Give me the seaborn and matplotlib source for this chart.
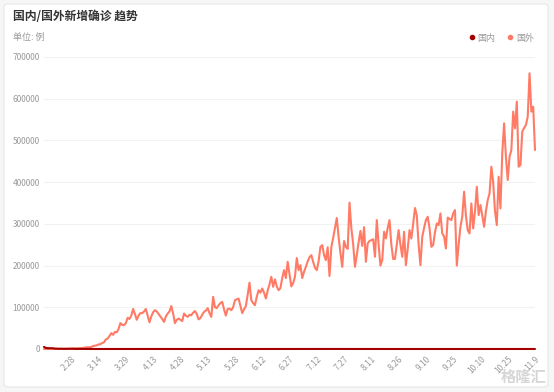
import pandas as pd
import matplotlib.pyplot as plt
import seaborn as sns
from matplotlib.lines import Line2D
from matplotlib.patches import FancyBboxPatch

# daily new confirmed cases, 2020-02-13 .. 2020-11-09
start_date = '2020-02-13'

foreign = [
    40, 70, 60, 90, 80, 120, 110, 190, 230, 400, 350, 600, 500, 600, 900,
    1000, 1200, 1300, 1700, 1900, 2200, 2300, 3000, 3800, 3900, 4200, 4700, 7000, 7900, 8800,
    10900, 11500, 14500, 16000, 23000, 25000, 31000, 38000, 34000, 41000, 40000, 48000, 62000, 58000, 57000,
    62000, 75000, 72000, 80000, 96000, 84000, 70000, 80000, 86000, 86000, 90000, 96000, 80000, 64000, 78000,
    88000, 93000, 90000, 84000, 78000, 72000, 65000, 78000, 85000, 90000, 103000, 85000, 62000, 70000, 73000,
    70000, 67000, 85000, 80000, 77000, 82000, 81000, 87000, 91000, 84000, 71000, 74000, 82000, 89000, 92000,
    98000, 86000, 77000, 125000, 100000, 98000, 105000, 110000, 113000, 95000, 80000, 96000, 97000, 93000, 100000,
    117000, 119000, 121000, 103000, 86000, 95000, 103000, 130000, 159000, 117000, 110000, 105000, 125000, 141000, 135000,
    145000, 135000, 121000, 140000, 155000, 173000, 149000, 167000, 150000, 141000, 146000, 170000, 189000, 170000, 209000,
    180000, 150000, 158000, 173000, 218000, 189000, 201000, 170000, 185000, 197000, 210000, 220000, 225000, 209000, 195000,
    189000, 210000, 245000, 249000, 225000, 213000, 244000, 175000, 244000, 266000, 290000, 314000, 269000, 230000, 197000,
    259000, 245000, 240000, 351000, 290000, 252000, 197000, 225000, 256000, 283000, 247000, 292000, 209000, 253000, 259000,
    261000, 263000, 221000, 309000, 250000, 200000, 213000, 281000, 265000, 290000, 309000, 250000, 216000, 216000, 250000,
    285000, 250000, 221000, 281000, 201000, 240000, 285000, 265000, 300000, 338000, 320000, 250000, 201000, 269000, 290000,
    309000, 317000, 290000, 245000, 249000, 280000, 301000, 297000, 325000, 277000, 270000, 241000, 315000, 312000, 309000,
    325000, 333000, 200000, 250000, 293000, 317000, 377000, 320000, 285000, 277000, 349000, 289000, 330000, 389000, 321000,
    345000, 320000, 293000, 330000, 357000, 373000, 437000, 400000, 330000, 297000, 413000, 337000, 469000, 541000, 461000,
    405000, 461000, 477000, 569000, 529000, 593000, 437000, 441000, 521000, 530000, 537000, 557000, 661000, 569000, 581000, 477000,
]

domestic = [
    5090, 2641, 2009, 2048, 1886, 1749, 820, 889, 397, 648, 409, 508, 406, 433, 327,
    427, 573, 202, 125, 119, 139, 143, 99, 44, 40, 19, 24, 15, 20, 11,
    20, 16, 21, 13, 34, 39, 41, 46, 39, 78, 47, 67, 55, 54, 45,
    31, 48, 36, 35, 31, 30, 39, 32, 63, 62, 42, 46, 99, 108, 89,
    46, 36, 26, 20, 18, 12, 16, 11, 30, 10, 11, 5, 6, 3, 22,
    6, 12, 4, 2, 1, 2, 1, 2, 2, 1, 17, 5, 3, 7, 1,
    4, 16, 6, 4, 11, 2, 3, 2, 3, 2, 11, 7, 2, 5, 4,
    1, 2, 6, 16, 5, 4, 1, 6, 3, 11, 27, 40, 57, 49, 32,
    44, 28, 25, 22, 30, 19, 21, 25, 13, 17, 21, 13, 12, 21, 16,
    8, 3, 5, 3, 10, 16, 14, 7, 8, 6, 12, 7, 8, 11, 7,
    4, 13, 18, 23, 30, 33, 44, 22, 22, 61, 68, 64, 101, 127, 105,
    68, 61, 57, 27, 49, 37, 36, 27, 22, 31, 25, 20, 14, 13, 11,
    23, 19, 15, 16, 22, 11, 17, 11, 12, 17, 12, 14, 9, 10, 16,
    12, 8, 10, 9, 6, 7, 11, 9, 11, 14, 6, 10, 15, 12, 10,
    11, 7, 10, 10, 14, 20, 13, 16, 8, 9, 9, 18, 14, 10, 6,
    11, 10, 6, 12, 14, 11, 20, 21, 12, 10, 17, 13, 26, 15, 11,
    15, 20, 17, 22, 29, 22, 36, 24, 17, 20, 22, 21, 12, 28, 47,
    20, 26, 42, 25, 16, 23, 25, 24, 19, 26, 33, 37, 36, 24, 25, 25,
]

tick_step = 15
c_domestic = '#a50000'
c_foreign = '#ff7b66'

dates = pd.date_range(start_date, periods=len(foreign), freq='D')
df = pd.DataFrame({'day': range(len(foreign)), '国外': foreign, '国内': domestic})
long = df.melt(id_vars='day', var_name='series', value_name='value')

sns.set_theme(style='white')
plt.rcParams['font.family'] = ['Noto Sans CJK SC', 'DejaVu Sans']

fig = plt.figure(figsize=(5.54, 3.92), dpi=100)
fig.patch.set_facecolor('#f6f6f6')

# white card behind everything
card = FancyBboxPatch((4 / 554, 1 - 387 / 392), 544 / 554, 383 / 392,
                      boxstyle='round,pad=0,rounding_size=0.008',
                      transform=fig.transFigure, facecolor='white',
                      edgecolor='#e6e6e6', linewidth=0.8, zorder=-10)
fig.patches.append(card)

ax = fig.add_axes([44 / 554, 1 - 349 / 392, 491 / 554, 292 / 392])
ax.set_facecolor('none')
ax.set_zorder(5)

sns.lineplot(data=long, x='day', y='value', hue='series',
             hue_order=['国外', '国内'],
             palette={'国外': c_foreign, '国内': c_domestic},
             linewidth=1.5, legend=False, ax=ax)
for ln in ax.lines:
    ln.set_clip_on(False)
    ln.set_solid_joinstyle('round')

ax.set_xlim(0, len(foreign) - 1)
ax.set_ylim(0, 700000)
ax.set_yticks(range(0, 700001, 100000))
ax.set_yticklabels([str(v) for v in range(0, 700001, 100000)])
ticks = list(range(tick_step, len(foreign), tick_step))
ax.set_xticks(ticks)
ax.set_xticklabels([f'{dates[i].month}.{dates[i].day}' for i in ticks],
                   rotation=45, ha='right', rotation_mode='anchor')
ax.tick_params(axis='both', labelsize=6, colors='#999999', length=0, pad=3)
ax.tick_params(axis='x', pad=4)
ax.grid(axis='y', color='#f2f2f2', linewidth=0.8)
for s in ax.spines.values():
    s.set_visible(False)
ax.set_xlabel('')
ax.set_ylabel('')

fig.text(13 / 554, 1 - 17 / 392, '国内/国外新增确诊 趋势', fontsize=8.5,
         fontweight='bold', color='#333333', va='center')
fig.text(13 / 554, 1 - 37 / 392, '单位: 例', fontsize=6.5, color='#999999', va='center')

handles = [Line2D([], [], marker='o', linestyle='', color=c_domestic, markersize=3),
           Line2D([], [], marker='o', linestyle='', color=c_foreign, markersize=3)]
leg = fig.legend(handles, ['国内', '国外'], loc='center right',
                 bbox_to_anchor=(542 / 554, 1 - 38 / 392), ncol=2, frameon=False,
                 fontsize=6.5, handletextpad=0.1, columnspacing=1.2, handlelength=1)
for t in leg.get_texts():
    t.set_color('#999999')

# watermark
fig.text(546 / 554, 1 - 377 / 392, '格隆汇', fontsize=11, color='#d6d6d6',
         ha='right', va='center', fontweight='bold')

fig.savefig('out.png', dpi=100, facecolor=fig.get_facecolor())
